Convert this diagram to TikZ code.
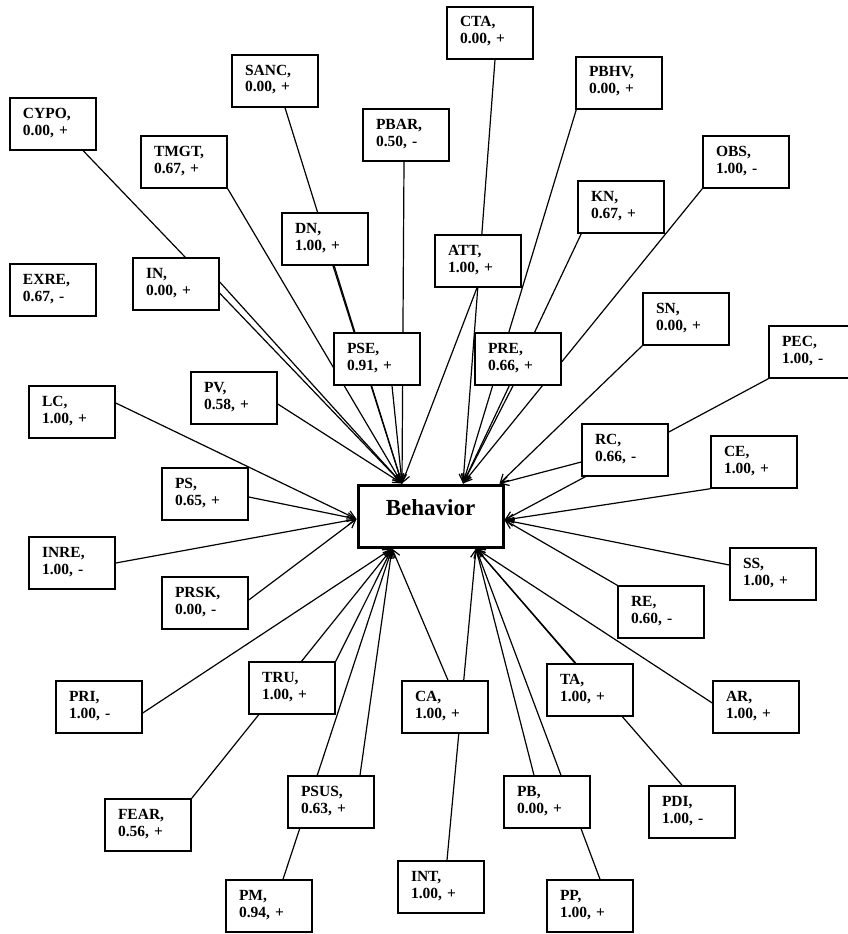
\documentclass[tikz,border=0pt]{standalone}
\usepackage{fontspec}
\setmainfont{Liberation Serif}
\usetikzlibrary{arrows.meta,calc}
\pgfdeclarelayer{bg}
\pgfsetlayers{bg,main}
\begin{document}
\begin{tikzpicture}[x=1pt,y=-1pt,
 box/.style={draw, line width=1.5pt, fill=white, minimum width=86pt, minimum height=52pt,
   text width=60pt, inner xsep=0pt, inner ysep=0pt, align=left, text height=12pt, text depth=24pt,
   font=\fontsize{15.5}{17}\selectfont\bfseries},
 beh/.style={draw, line width=3pt, fill=white, minimum width=145pt, minimum height=62pt,
   inner sep=0pt, font=\fontsize{23}{27}\selectfont\bfseries},
 link/.style={line width=1.2pt, -{Straight Barb[length=8pt,width=9pt]}}]
\useasboundingbox (0,0) rectangle (847,934);

\node[beh] (beh) at (430.5,516) {\raisebox{1pt}[0pt][0pt]{Behavior}};

\node[box] (cypo) at (53,124) {CYPO,\\0.00, +};
\node[box] (sanc) at (275,81) {SANC,\\0.00, +};
\node[box] (tmgt) at (184,162) {TMGT,\\0.67, +};
\node[box] (exre) at (53,290) {EXRE,\\0.67, -};
\node[box] (in) at (176,284) {IN,\\0.00, +};
\node[box] (dn) at (325,239) {DN,\\1.00, +};
\node[box] (cta) at (490,33) {CTA,\\0.00, +};
\node[box] (pbar) at (406,135) {PBAR,\\0.50, -};
\node[box] (att) at (478,261) {ATT,\\1.00, +};
\node[box] (pbhv) at (619,83) {PBHV,\\0.00, +};
\node[box] (obs) at (746,162) {OBS,\\1.00, -};
\node[box] (kn) at (621,207) {KN,\\0.67, +};
\node[box] (sn) at (686,319) {SN,\\0.00, +};
\node[box] (pec) at (812,352) {PEC,\\1.00, -};
\node[box] (pse) at (377,359) {PSE,\\0.91, +};
\node[box] (pre) at (518,359) {PRE,\\0.66, +};
\node[box] (lc) at (72,412) {LC,\\1.00, +};
\node[box] (pv) at (234,398) {PV,\\0.58, +};
\node[box] (ps) at (205,494) {PS,\\0.65, +};
\node[box] (inre) at (72,563) {INRE,\\1.00, -};
\node[box] (prsk) at (205,603) {PRSK,\\0.00, -};
\node[box] (rc) at (625,450) {RC,\\0.66, -};
\node[box] (ce) at (754,462) {CE,\\1.00, +};
\node[box] (ss) at (773,574) {SS,\\1.00, +};
\node[box] (re) at (661,612) {RE,\\0.60, -};
\node[box] (pri) at (99,707) {PRI,\\1.00, -};
\node[box] (tru) at (292,688) {TRU,\\1.00, +};
\node[box] (fear) at (148,825) {FEAR,\\0.56, +};
\node[box] (psus) at (331,802) {PSUS,\\0.63, +};
\node[box] (pm) at (269,906) {PM,\\0.94, +};
\node[box] (ca) at (445,707) {CA,\\1.00, +};
\node[box] (int) at (441,887) {INT,\\1.00, +};
\node[box] (pb) at (547,802) {PB,\\0.00, +};
\node[box] (ta) at (590,690) {TA,\\1.00, +};
\node[box] (pp) at (590,906) {PP,\\1.00, +};
\node[box] (ar) at (756,707) {AR,\\1.00, +};
\node[box] (pdi) at (692,812) {PDI,\\1.00, -};

\begin{pgfonlayer}{bg}
\fill[white] (0,0) rectangle (847,934);
\coordinate (tl) at ($(beh.north)+(-28.5,0)$);
\coordinate (tr) at ($(beh.north)+(32.5,0)$);
\coordinate (trc) at ($(beh.north east)+(-5,0)$);
\coordinate (rs) at ($(beh.east)+(0,4)$);
\coordinate (ls) at ($(beh.west)+(0,3)$);
\coordinate (bl) at ($(beh.south)+(-38.5,0)$);
\coordinate (br) at ($(beh.south)+(45.5,0)$);

% top-left cluster
\draw[link] ($(cypo.south west)+(74,0)$) -- (tl);
\draw[link] ($(in.east)+(0,-2)$) -- (tl);
\draw[link] (tmgt.south east) -- (tl);
\draw[link] ($(sanc.south)+(10,0)$) -- (tl);
\draw[link] ($(dn.south)+(8,0)$) -- (tl);
\draw[link] ($(pbar.south)+(-2,0)$) -- (tl);
\draw[link] ($(pse.south)+(15,0)$) -- (tl);
\draw[link] ($(pv.east)+(0,6)$) -- (tl);
\draw[link] ($(att.south)+(-1,0)$) -- (tl);
% top-right cluster
\draw[link] ($(cta.south)+(5,0)$) -- (tr);
\draw[link] ($(pbhv.south west)+(1,0)$) -- (tr);
\draw[link] ($(kn.south west)+(4,0)$) -- (tr);
\draw[link] (obs.south west) -- (tr);
\draw[link] ($(pre.south)+(-5,0)$) -- (tr);
% top-right corner
\draw[link] (sn.south west) -- (trc);
\draw[link] ($(rc.west)+(0,12)$) -- (trc);
% right side
\draw[link] (pec.south west) -- (rs);
\draw[link] (ce.south west) -- (rs);
\draw[link] ($(ss.west)+(0,-9)$) -- (rs);
\draw[link] (re.north west) -- (rs);
% left side
\draw[link] ($(lc.east)+(0,-9)$) -- (ls);
\draw[link] ($(ps.east)+(0,3)$) -- (ls);
\draw[link] (inre.east) -- (ls);
\draw[link] ($(prsk.east)+(0,-3)$) -- (ls);
% bottom-left cluster
\draw[link] ($(pri.east)+(0,6)$) -- (bl);
\draw[link] (tru.north east) -- (bl);
\draw[link] (fear.north east) -- (bl);
\draw[link] ($(pm.north)+(14,0)$) -- (bl);
\draw[link] ($(psus.north)+(29,0)$) -- (bl);
\draw[link] ($(ca.north)+(3,0)$) -- (bl);
% bottom-right cluster
\draw[link] ($(int.north)+(6,0)$) -- (br);
\draw[link] ($(pb.north)+(-13,0)$) -- (br);
\draw[link] ($(pp.north)+(10,0)$) -- (br);
\draw[link] ($(ta.north)+(-15,0)$) -- (br);
\draw[link] ($(pdi.north)+(-10,0)$) -- (br);
\draw[link] ($(ar.west)+(0,-4)$) -- (br);
\end{pgfonlayer}
\end{tikzpicture}
\end{document}
